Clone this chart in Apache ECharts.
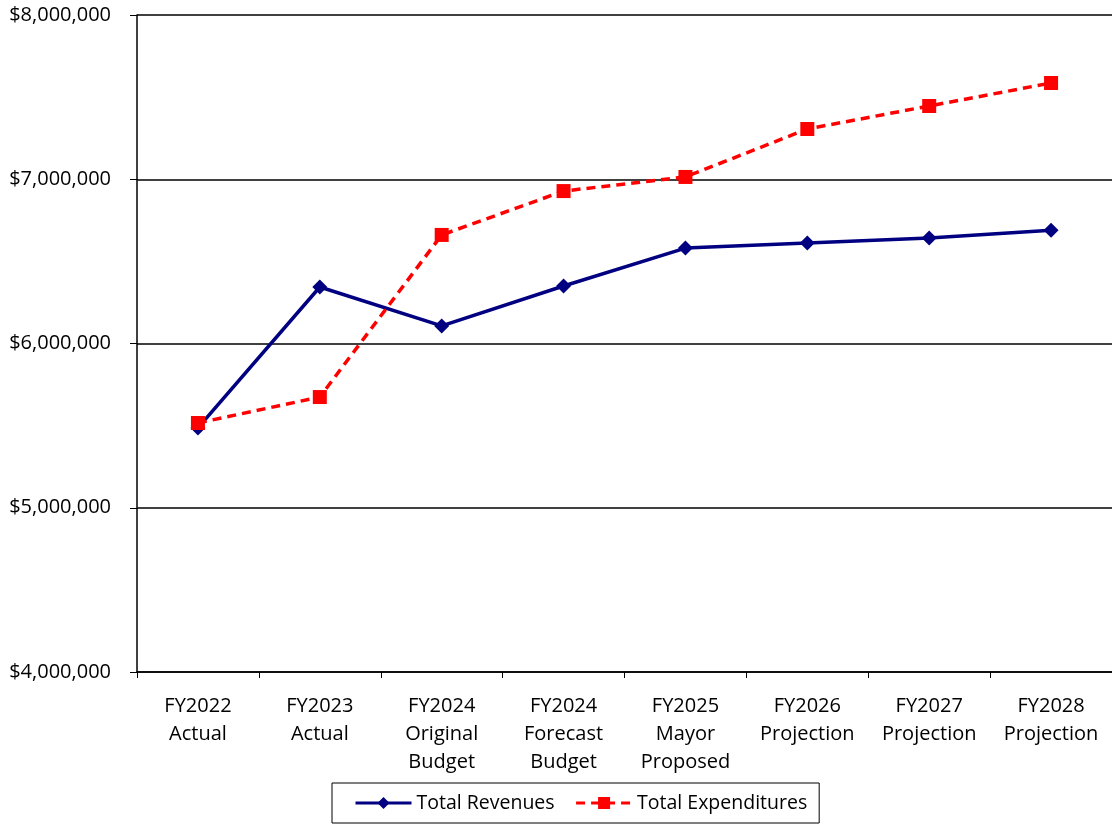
<!DOCTYPE html>
<html><head><meta charset="utf-8">
<script src="https://cdn.jsdelivr.net/npm/echarts@6/dist/echarts.min.js"></script>
<style>html,body{margin:0;padding:0;background:#fff}#c{width:1112px;height:824px}</style>
</head><body><div id="c"></div>
<script>
const categories = ["FY2022\nActual","FY2023\nActual","FY2024\nOriginal\nBudget","FY2024\nForecast\nBudget","FY2025\nMayor\nProposed","FY2026\nProjection","FY2027\nProjection","FY2028\nProjection"];
const revenues = [5486000, 6344000, 6107000, 6350000, 6581000, 6612000, 6642000, 6690000];
const expenditures = [5516000, 5674000, 6661000, 6928000, 7014000, 7306000, 7446000, 7586000];
const yMin = 4000000, yMax = 8000000, yStep = 1000000;

const font = "'Open Sans', 'Noto Sans', sans-serif";
const chart = echarts.init(document.getElementById('c'));
chart.setOption({
  animation: false,
  textStyle: {fontFamily: font},
  grid: {left: 137, right: 0, top: 15, bottom: 152, containLabel: false},
  legend: {
    bottom: 1, left: 332, height: 40,
    itemWidth: 56, itemHeight: 15, itemGap: 20,
    padding: [10, 12, 10, 22],
    borderColor: '#000', borderWidth: 1,
    lineStyle: {width: 3},
    textStyle: {fontFamily: font, fontSize: 19.5, color: '#000'},
    data: ['Total Revenues', 'Total Expenditures']
  },
  xAxis: {
    type: 'category', data: categories, boundaryGap: true,
    axisLine: {lineStyle: {color: '#000', width: 1.5}},
    axisTick: {show: true, alignWithLabel: false, length: 6, lineStyle: {color: '#000'}},
    axisLabel: {color: '#000', fontSize: 20, lineHeight: 28, margin: 20, interval: 0, fontFamily: font},
    splitLine: {show: false}
  },
  yAxis: {
    type: 'value', min: yMin, max: yMax, interval: yStep,
    axisLine: {show: true, lineStyle: {color: '#000', width: 1.5}},
    axisTick: {show: true, length: 7, lineStyle: {color: '#000'}},
    splitLine: {show: true, lineStyle: {color: '#000', width: 1.5}},
    axisLabel: {color: '#000', fontSize: 20, margin: 26, fontFamily: font,
      formatter: v => '$' + v.toLocaleString('en-US')}
  },
  series: [
    {name: 'Total Revenues', type: 'line', data: revenues,
     symbol: 'diamond', symbolSize: 15, color: '#000080',
     lineStyle: {color: '#000080', width: 3.5}, itemStyle: {color: '#000080'}},
    {name: 'Total Expenditures', type: 'line', data: expenditures,
     symbol: 'rect', symbolSize: 14, color: '#ff0000',
     lineStyle: {color: '#ff0000', width: 3.5, type: [9, 6]}, itemStyle: {color: '#ff0000'}}
  ]
});
</script></body></html>
